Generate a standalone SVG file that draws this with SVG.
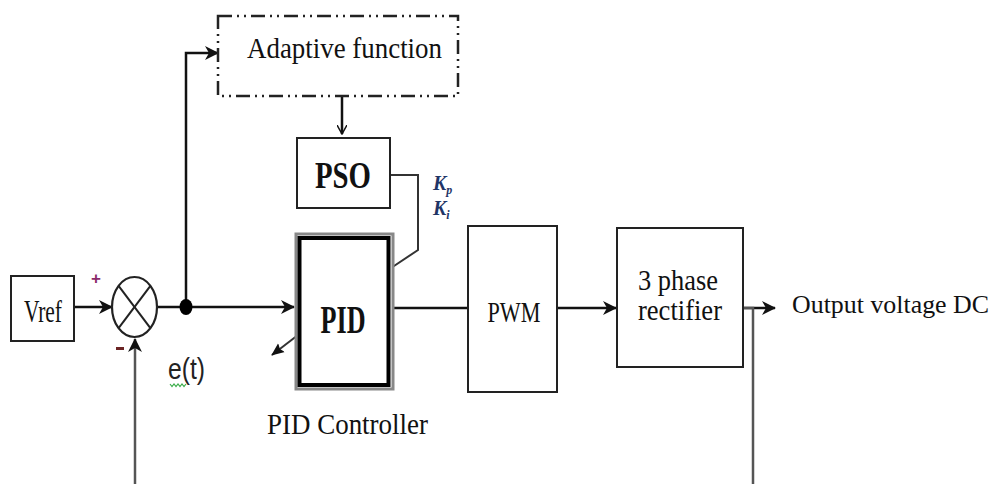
<svg xmlns="http://www.w3.org/2000/svg" width="998" height="484" viewBox="0 0 998 484">
<style>
.box{fill:#fff;stroke:#222;stroke-width:2}
.ln{fill:none;stroke:#111;stroke-width:2.5}
.gl{fill:none;stroke:#555;stroke-width:2.5}
.t{font-family:"Liberation Serif","Times New Roman",serif;fill:#111}
.b{font-weight:bold}
</style>
<defs>
<marker id="ah" markerWidth="14" markerHeight="14" refX="13" refY="7" orient="auto" markerUnits="userSpaceOnUse">
<path d="M0,0 L14,7 L0,14 L4,7 Z" fill="#111"/>
</marker>
<marker id="oa" markerWidth="10" markerHeight="10" refX="9" refY="5" orient="auto" markerUnits="userSpaceOnUse">
<path d="M0,0 L9,5 L0,10" fill="none" stroke="#111" stroke-width="1.5"/>
</marker>
<marker id="sa" markerWidth="13" markerHeight="13" refX="12" refY="6.5" orient="auto" markerUnits="userSpaceOnUse">
<path d="M0,1 L13,6.5 L0,12 L2,6.5 Z" fill="#111"/>
</marker>
</defs>

<g id="connectors">
<line class="ln" x1="74" y1="307" x2="112" y2="307" marker-end="url(#ah)"/>
<line class="ln" x1="157" y1="307" x2="294" y2="307" marker-end="url(#ah)"/>
<polyline class="ln" points="186,307 186,53 218,53" marker-end="url(#ah)"/>
<line class="ln" x1="342" y1="97" x2="342" y2="134" stroke-width="1.6" marker-end="url(#oa)"/>
<polyline points="390,175 418,175 418,250 391,268" fill="none" stroke="#333" stroke-width="2"/>
<line x1="298" y1="335" x2="272" y2="355" stroke="#333" stroke-width="2" marker-end="url(#sa)"/>
<line class="ln" x1="393" y1="308" x2="468" y2="308"/>
<line class="ln" x1="557" y1="308" x2="616" y2="308" stroke-width="3" marker-end="url(#ah)"/>
<line class="ln" x1="744" y1="308" x2="775" y2="308" marker-end="url(#ah)"/>
<polyline class="gl" points="744,308 753,308 753,484"/>
<line class="gl" x1="135" y1="484" x2="135" y2="339" marker-end="url(#ah)"/>
<ellipse cx="186" cy="307" rx="6.5" ry="8" fill="#000"/>
</g>

<g id="vref">
<rect class="box" x="11" y="276" width="63" height="65" stroke-width="2.5"/>
<text class="t" x="43" y="322" font-size="32" text-anchor="middle" textLength="38" lengthAdjust="spacingAndGlyphs">Vref</text>
</g>

<g id="sum">
<ellipse cx="134.5" cy="307" rx="22.5" ry="30" fill="#fff" stroke="#222" stroke-width="2.2"/>
<line x1="118.6" y1="285.8" x2="150.4" y2="328.2" stroke="#222" stroke-width="2"/>
<line x1="150.4" y1="285.8" x2="118.6" y2="328.2" stroke="#222" stroke-width="2"/>
<text x="96" y="284" font-family="Liberation Sans, sans-serif" font-size="17" font-weight="bold" fill="#8b2a6b" text-anchor="middle">+</text>
<rect x="116" y="347" width="8" height="3" fill="#6b2424"/>
</g>

<g id="et">
<text x="168" y="379" font-family="Liberation Sans, sans-serif" font-size="29" fill="#222" textLength="37" lengthAdjust="spacingAndGlyphs">e(t)</text>
<polyline points="170,384 172,386.5 174,384 176,386.5 178,384 180,386.5 182,384 184,386.5 186,384" fill="none" stroke="#3cad4a" stroke-width="1.2"/>
</g>

<g id="adaptive">
<rect x="218" y="16" width="240" height="80" fill="none" stroke="#222" stroke-width="2.5" stroke-dasharray="14 5 2 5 2 5"/>
<text class="t" x="247" y="58" font-size="29" textLength="195" lengthAdjust="spacingAndGlyphs">Adaptive function</text>
</g>

<g id="pso">
<rect class="box" x="297" y="138" width="93" height="70" stroke-width="2.5"/>
<text class="t b" x="343" y="188" font-size="37" text-anchor="middle" textLength="56" lengthAdjust="spacingAndGlyphs">PSO</text>
</g>

<g id="gains">
<text x="433" y="190" font-family="Liberation Serif, serif" font-style="italic" font-weight="bold" font-size="20" fill="#1f3566">K<tspan font-size="12" dy="4">p</tspan></text>
<text x="433" y="215" font-family="Liberation Serif, serif" font-style="italic" font-weight="bold" font-size="20" fill="#1f3566">K<tspan font-size="12" dy="4">i</tspan></text>
</g>

<g id="pid">
<rect x="296" y="234" width="97" height="155" fill="#fff" stroke="#888" stroke-width="3"/>
<rect x="299.5" y="238" width="89" height="147" fill="none" stroke="#000" stroke-width="4"/>
<text class="t b" x="343" y="333" font-size="41" text-anchor="middle" textLength="45" lengthAdjust="spacingAndGlyphs">PID</text>
<text class="t" x="267" y="434" font-size="29" textLength="161" lengthAdjust="spacingAndGlyphs">PID Controller</text>
</g>

<g id="pwm">
<rect class="box" x="468" y="226" width="89" height="166"/>
<text class="t" x="514" y="322" font-size="29" text-anchor="middle" textLength="53" lengthAdjust="spacingAndGlyphs">PWM</text>
</g>

<g id="rectifier">
<rect class="box" x="617" y="228" width="126" height="139"/>
<text class="t" x="678" y="290" font-size="29" text-anchor="middle" textLength="80" lengthAdjust="spacingAndGlyphs">3 phase</text>
<text class="t" x="680" y="320" font-size="29" text-anchor="middle" textLength="84" lengthAdjust="spacingAndGlyphs">rectifier</text>
</g>

<g id="output">
<text class="t" x="792" y="313" font-size="26" textLength="197" lengthAdjust="spacingAndGlyphs">Output voltage DC</text>
</g>
</svg>
